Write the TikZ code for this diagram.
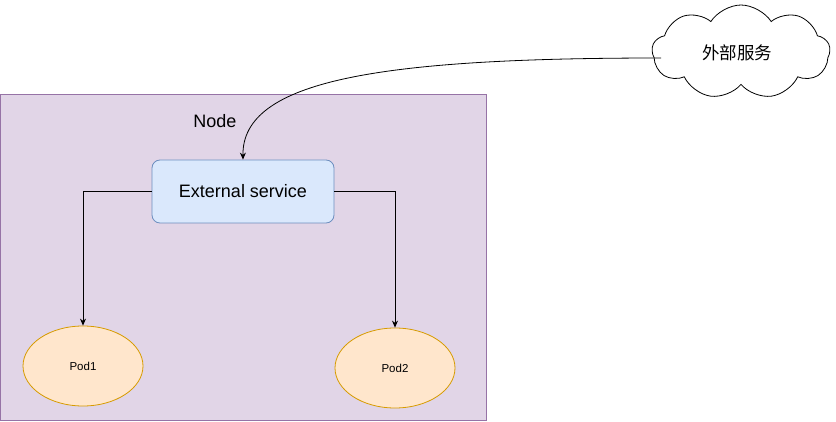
\documentclass[tikz,border=0pt]{standalone}
\usepackage{fontspec}
\setmainfont{Liberation Sans}
\newfontfamily\cjk{Noto Sans CJK SC}
\usetikzlibrary{arrows.meta,shapes.symbols,shapes.geometric}
\definecolor{nodefill}{HTML}{E1D5E7}
\definecolor{nodedraw}{HTML}{9673A6}
\definecolor{svcfill}{HTML}{DAE8FC}
\definecolor{svcdraw}{HTML}{6C8EBF}
\definecolor{podfill}{HTML}{FFE6CC}
\definecolor{poddraw}{HTML}{D79B00}
\tikzset{
  nodearea/.style={draw=nodedraw,fill=nodefill,line width=0.8pt},
  svcbox/.style={draw=svcdraw,fill=svcfill,rounded corners=8pt,line width=0.8pt,
    minimum width=182pt,minimum height=63pt,font=\fontsize{18}{21}\selectfont},
  podell/.style={ellipse,draw=poddraw,fill=podfill,line width=0.8pt,
    minimum width=120pt,minimum height=80pt,inner sep=0pt,font=\fontsize{11.5}{13}\selectfont},
  cloudshape/.style={cloud,cloud puffs=9,cloud puff arc=115,aspect=2,draw=black,line width=0.8pt,
    minimum width=178pt,minimum height=94pt,inner sep=0pt,font=\cjk\fontsize{17.5}{20}\selectfont},
  conn/.style={draw=black,line width=0.8pt,-{Stealth[length=7pt,width=6pt]}},
}
\begin{document}
\begin{tikzpicture}[x=1pt,y=-1pt]
\useasboundingbox (0,0) rectangle (836,422);
\draw[nodearea] (0.5,94) rectangle (486,420.5);
\node[font=\fontsize{18}{21}\selectfont] (nodelbl) at (215,121) {Node};
\node[svcbox] (svc) at (243,191.5) {External service};
\node[podell] (pod1) at (83,366) {Pod1};
\node[podell] (pod2) at (395,368) {Pod2};
\node[cloudshape] (cloud) at (741,52) {};
\node[font=\cjk\fontsize{17.5}{20}\selectfont] (cloudtxt) at (737,53) {外部服务};
\coordinate (cin) at (661,58);
\draw[conn] (cin) .. controls (380,58) and (242,80) .. (svc.north);
\draw[conn] (svc.west) -| (pod1.north);
\draw[conn] (svc.east) -| (pod2.north);
\end{tikzpicture}
\end{document}
